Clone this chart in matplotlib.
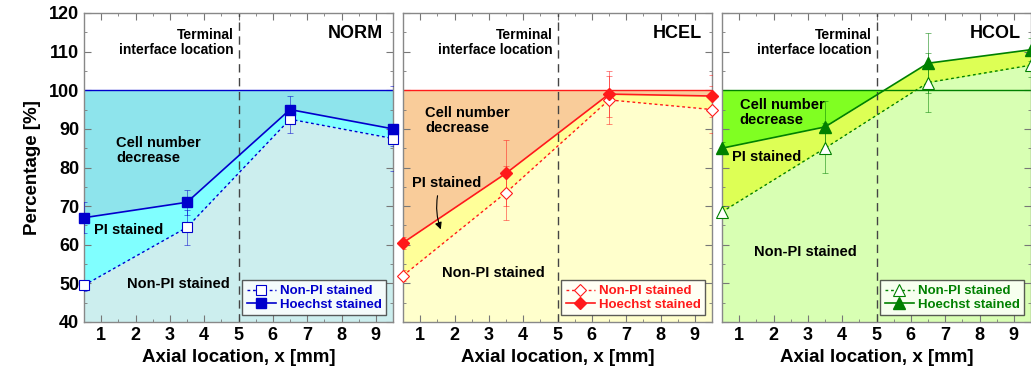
import matplotlib
matplotlib.use("Agg")
import matplotlib.pyplot as plt
from matplotlib.ticker import MultipleLocator

plt.rcParams['font.family'] = ['Liberation Sans', 'DejaVu Sans']
plt.rcParams['font.weight'] = 'bold'

# data
x_loc = [0.5, 3.5, 6.5, 9.5]

norm_hoechst = [67, 71, 95, 90]
norm_hoechst_err = [4, 3.3, 3.5, 11]
norm_nonpi = [49.5, 64.5, 92.5, 87.5]
norm_nonpi_err = [1.5, 4.5, 3.5, 2]

hcel_hoechst = [60.5, 78.5, 99, 98.5]
hcel_hoechst_err = [1.5, 8.5, 6, 5.5]
hcel_nonpi = [52, 73.5, 97.5, 95]
hcel_nonpi_err = [1.5, 7, 6.3, 6]

hcol_hoechst = [85, 90.5, 107, 110.5]
hcol_hoechst_err = [1.5, 6.7, 7.8, 3]
hcol_nonpi = [68.5, 85, 102, 106.5]
hcol_nonpi_err = [1.5, 6.5, 7.7, 3]

panels = [
    dict(name="NORM", hoechst=norm_hoechst, h_err=norm_hoechst_err,
         nonpi=norm_nonpi, n_err=norm_nonpi_err, marker="s", ms=7.5,
         line="#0000CC", top="#8EE4EC", mid="#80FFFF", low="#CCEEEE",
         cell=(1.43, 84.5), pi=(0.8, 63.8), non=(3.25, 49.8), arrow=None),
    dict(name="HCEL", hoechst=hcel_hoechst, h_err=hcel_hoechst_err,
         nonpi=hcel_nonpi, n_err=hcel_nonpi_err, marker="D", ms=6.5,
         line="#FF1A1A", top="#F9CC9A", mid="#FFFF99", low="#FFFFCC",
         cell=(1.14, 92.2), pi=(0.76, 76), non=(3.12, 52.6),
         arrow=((1.52, 73.4), (1.63, 63.3))),
    dict(name="HCOL", hoechst=hcol_hoechst, h_err=hcol_hoechst_err,
         nonpi=hcol_nonpi, n_err=hcol_nonpi_err, marker="^", ms=8,
         line="#008000", top="#80FF22", mid="#DDFF55", low="#D8FFB3",
         cell=(1.02, 94.3), pi=(0.8, 82.8), non=(2.92, 58.1), arrow=None),
]

fig = plt.figure(figsize=(10.31, 3.78), dpi=100)
lefts = [84, 403, 722]

for i, p in enumerate(panels):
    ax = fig.add_axes([lefts[i] / 1031, 56 / 378, 309 / 1031, 309 / 378])
    ax.set_xlim(0.5, 9.5)
    ax.set_ylim(40, 120)

    h = p['hoechst']
    n = p['nonpi']
    # shaded regions: cell loss above Hoechst, PI band, non-PI below
    ax.fill_between(x_loc, h, 100, interpolate=True, color=p['top'], lw=0, zorder=0.9)
    ax.fill_between(x_loc, n, h, color=p['mid'], lw=0, zorder=1)
    ax.fill_between(x_loc, 40, n, color=p['low'], lw=0, zorder=1.1)

    ax.axhline(100, color=p['line'], lw=1, zorder=2)
    ax.axvline(5, color='#444444', lw=1, ls=(0, (6, 4)), zorder=2)

    ax.errorbar(x_loc, n, yerr=p['n_err'], fmt='none', ecolor=p['line'],
                elinewidth=0.6, capsize=2, capthick=0.6, alpha=0.6, zorder=3)
    ax.errorbar(x_loc, h, yerr=p['h_err'], fmt='none', ecolor=p['line'],
                elinewidth=0.6, capsize=2, capthick=0.6, alpha=0.6, zorder=3)

    ax.plot(x_loc, n, color=p['line'], ls=(0, (2, 2)), lw=1, marker=p['marker'],
            ms=p['ms'], mfc='white', mec=p['line'], mew=0.8, clip_on=False,
            zorder=4, label="Non-PI stained")
    ax.plot(x_loc, h, color=p['line'], ls='-', lw=1.2, marker=p['marker'],
            ms=p['ms'], mfc=p['line'], mec=p['line'], clip_on=False,
            zorder=5, label="Hoechst stained")

    leg = ax.legend(loc='lower right', fontsize=9.5, frameon=True, fancybox=False,
                    edgecolor='#333333', handlelength=2.2, borderpad=0.35,
                    labelspacing=0.1, handletextpad=0.3, borderaxespad=0.5)
    leg.get_frame().set_linewidth(1)
    leg.set_zorder(6)
    for t in leg.get_texts():
        t.set_color(p['line'])
        t.set_fontweight('bold')

    # annotations
    ax.text(4.85, 112.3, "Terminal\ninterface location", ha='right', va='center',
            fontsize=10, linespacing=1.1, zorder=6)
    ax.text(9.2, 114.8, p['name'], ha='right', va='center', fontsize=13, zorder=6)
    ax.text(p['cell'][0], p['cell'][1], "Cell number\ndecrease", ha='left',
            va='center', fontsize=10.5, linespacing=1.1, zorder=6)
    ax.text(p['pi'][0], p['pi'][1], "PI stained", ha='left', va='center',
            fontsize=10.5, zorder=6)
    ax.text(p['non'][0], p['non'][1], "Non-PI stained", ha='center', va='center',
            fontsize=10.5, zorder=6)
    if p['arrow'] is not None:
        ax.annotate("", xy=p['arrow'][1], xytext=p['arrow'][0],
                    arrowprops=dict(arrowstyle='-|>', color='black', lw=0.8,
                                    connectionstyle='arc3,rad=0.15'), zorder=6)

    ax.xaxis.set_major_locator(MultipleLocator(1))
    ax.xaxis.set_minor_locator(MultipleLocator(0.5))
    ax.yaxis.set_major_locator(MultipleLocator(10))
    ax.yaxis.set_minor_locator(MultipleLocator(5))
    ax.tick_params(which='both', direction='in', top=True, right=True,
                   color='#777777', labelsize=13)
    ax.tick_params(which='major', length=5, width=0.8)
    ax.tick_params(which='minor', length=2.5, width=0.6)
    ax.set_xticks(range(1, 10))
    for s in ax.spines.values():
        s.set_color('#888888')
        s.set_linewidth(1)
    for lab in ax.get_xticklabels() + ax.get_yticklabels():
        lab.set_fontweight('bold')
    ax.set_xlabel("Axial location, x [mm]", fontsize=13.5, fontweight='bold',
                  labelpad=4)
    if i == 0:
        ax.set_ylabel("Percentage [%]", fontsize=13.5, fontweight='bold',
                      labelpad=6)
    else:
        ax.set_yticklabels([])

fig.savefig("out.png", dpi=100)
